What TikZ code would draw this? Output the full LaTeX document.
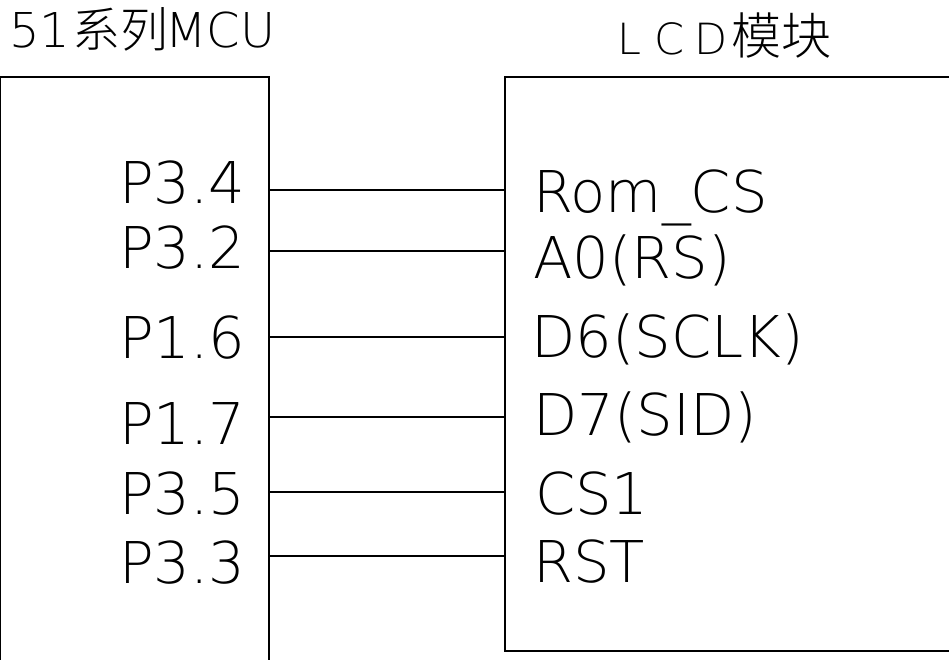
\documentclass[tikz,border=0pt]{standalone}
\usepackage{fontspec}
\newfontfamily\thinf{DejaVu Sans ExtraLight}
\newfontfamily\cjkf{Noto Sans CJK SC Light}
\begin{document}
\begin{tikzpicture}[x=1pt,y=-1pt,
  wire/.style={line width=1.3pt},
  boxline/.style={line width=1.3pt},
  pin/.style={anchor=base west,inner sep=0pt,font=\thinf\fontsize{57.6}{60}\selectfont},
  ttl/.style={anchor=base west,inner sep=0pt}]
\useasboundingbox (0,0) rectangle (949,660);
\clip (0,0) rectangle (949,660);
% boxes
\draw[boxline] (0.6,700) -- (0.6,77) -- (269,77) -- (269,700);
\draw[boxline] (1000,651) -- (505,651) -- (505,77) -- (1000,77);
% titles
\node[ttl] (tmcu) at (9,48) {\thinf\fontsize{48}{50}\selectfont 51\hspace{2pt}{\cjkf\fontsize{48}{50}\selectfont 系列}\hspace{-3pt}MCU};
\node[ttl] (tlcd) at (617,55) {\thinf\fontsize{43}{45}\selectfont L\hspace{13pt}C\hspace{10pt}D\hspace{4pt}{\cjkf\fontsize{50}{50}\selectfont 模块}};
% left pins
\node[pin] (p34) at (119,204) {P3.4};
\node[pin] (p32) at (119,268) {P3.2};
\node[pin] (p16) at (119,358) {P1.6};
\node[pin] (p17) at (119,444) {P1.7};
\node[pin] (p35) at (119,514) {P3.5};
\node[pin] (p33) at (119,583) {P3.3};
% right pins
\node[pin] (rom) at (533,212) {Rom\_CS};
\node[pin] (a0) at (533,278) {A0(RS)};
\node[pin] (d6) at (531,357) {D6(SCLK)};
\node[pin] (d7) at (533,435) {D7(SID)};
\node[pin] (cs1) at (535,514) {CS1};
\node[pin] (rst) at (533,582) {RST};
% pin ends
\foreach \n/\y in {1/190,2/251,3/337,4/417,5/492,6/556}{
  \coordinate (m\n) at (269,\y);
  \coordinate (l\n) at (505,\y);
}
\foreach \n in {1,...,6}{\draw[wire] (m\n) -- (l\n);}
\end{tikzpicture}
\end{document}
